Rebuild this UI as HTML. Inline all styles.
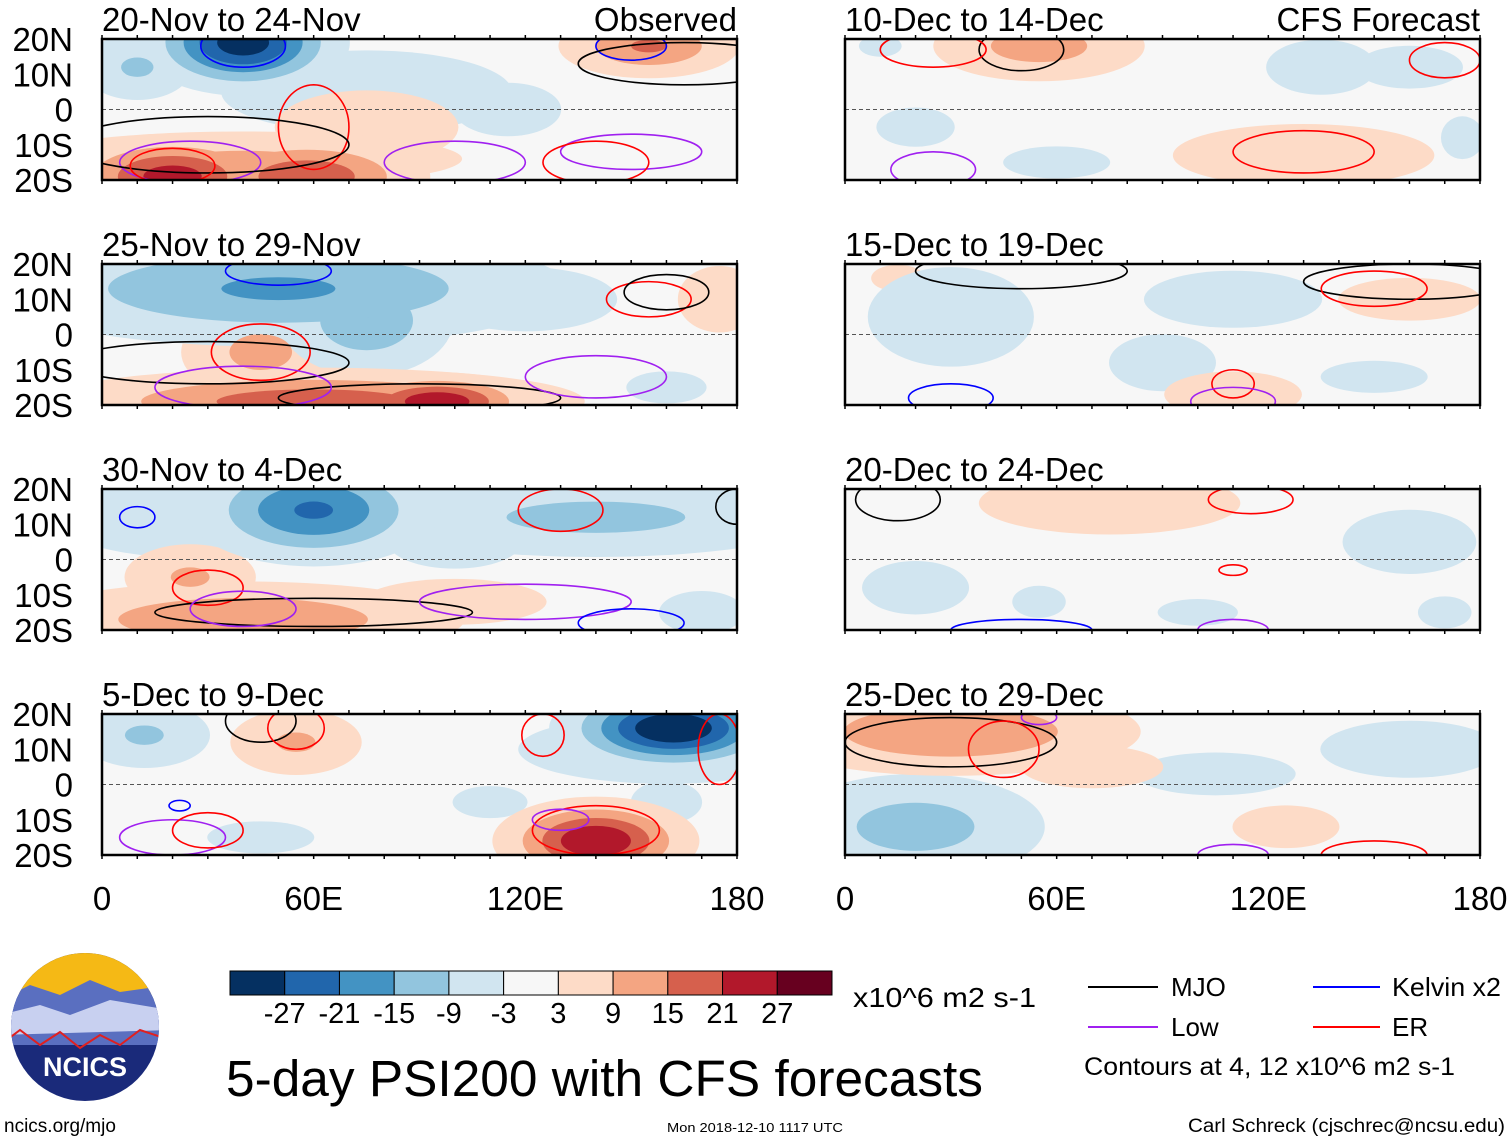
<!DOCTYPE html>
<html><head><meta charset="utf-8">
<style>
body{margin:0;background:#fff;width:1510px;height:1142px;overflow:hidden;font-family:"Liberation Sans",sans-serif}
svg text{font-family:"Liberation Sans",sans-serif}
</style></head>
<body>
<svg id="fig" width="1510" height="1142" viewBox="0 0 1510 1142" xmlns="http://www.w3.org/2000/svg">
<defs id="defs"></defs>
<g id="panels"></g>
<g id="cbar"></g>
<text x="853" y="1007" font-size="28" textLength="183" lengthAdjust="spacingAndGlyphs">x10^6 m2 s-1</text>
<g font-size="26">
<line x1="1088" y1="987" x2="1158" y2="987" stroke="#000" stroke-width="2"/><text x="1171" y="996">MJO</text>
<line x1="1313" y1="987" x2="1380" y2="987" stroke="#00f" stroke-width="2"/><text x="1392" y="996" textLength="109" lengthAdjust="spacingAndGlyphs">Kelvin x2</text>
<line x1="1088" y1="1027" x2="1158" y2="1027" stroke="#a020f0" stroke-width="2"/><text x="1171" y="1036">Low</text>
<line x1="1313" y1="1027" x2="1380" y2="1027" stroke="#f00" stroke-width="2"/><text x="1392" y="1036">ER</text>
<text x="1084" y="1075" font-size="25" textLength="371" lengthAdjust="spacingAndGlyphs">Contours at 4, 12 x10^6 m2 s-1</text>
</g>
<text x="226" y="1096" font-size="51" textLength="757" lengthAdjust="spacingAndGlyphs">5-day PSI200 with CFS forecasts</text>
<text x="4" y="1132" font-size="19">ncics.org/mjo</text>
<text x="667" y="1132" font-size="13" textLength="176" lengthAdjust="spacingAndGlyphs">Mon 2018-12-10 1117 UTC</text>
<text x="1188" y="1132" font-size="19" textLength="317" lengthAdjust="spacingAndGlyphs">Carl Schreck (cjschrec@ncsu.edu)</text>
<g>
<clipPath id="logoclip"><circle cx="85" cy="1027" r="74"/></clipPath>
<g clip-path="url(#logoclip)">
<rect x="0" y="950" width="170" height="160" fill="#1a2a7a"/>
<rect x="0" y="950" width="170" height="45" fill="#f5b915"/>
<path d="M0 1000 L30 985 L60 995 L90 980 L120 992 L170 985 L170 1045 L0 1045Z" fill="#5a6fc0"/>
<path d="M0 1015 L40 1005 L70 1015 L110 1000 L170 1010 L170 1030 L0 1035Z" fill="#c8d0f0"/>
<path d="M0 1045 L20 1030 L40 1045 L60 1032 L80 1048 L100 1035 L120 1045 L140 1030 L170 1040" fill="none" stroke="#e02020" stroke-width="2"/>
</g>
<text x="85" y="1076" font-size="27" font-weight="bold" fill="#fff" text-anchor="middle">NCICS</text>
</g>
</svg>
<script>
const NS="http://www.w3.org/2000/svg";
const levels=[3,9,15,21,27];
const posColors=["#fddbc7","#f4a582","#d6604d","#b2182b","#67001f"];
const negColors=["#d1e5f0","#92c5de","#4393c3","#2166ac","#053061"];
const cbarLabels=["-27","-21","-15","-9","-3","3","9","15","21","27"];
const cbarColors=["#053061","#2166ac","#4393c3","#92c5de","#d1e5f0","#f7f7f7","#fddbc7","#f4a582","#d6604d","#b2182b","#67001f"];
const panelTitles=["20-Nov to 24-Nov","25-Nov to 29-Nov","30-Nov to 4-Dec","5-Dec to 9-Dec","10-Dec to 14-Dec","15-Dec to 19-Dec","20-Dec to 24-Dec","25-Dec to 29-Dec"];
// anomaly centres: [lon, lat, sigmaLon, sigmaLat, amplitude]
const anom0=[[75,5,35,10,-6],[115,0,20,10,-4],[40,19,14,7,-31],[10,12,10,6,-10],[20,-19,16,6,24],[58,-19,18,6,20],[40,-14,40,5,10],[155,18,14,5,16],[75,-5,20,8,7]];
const anom1=[[50,13,45,9,-16],[75,4,14,9,-14],[120,10,20,7,-7],[22,15,12,6,-13],[45,-5,14,8,11],[60,-19,40,5,19],[95,-19,14,4,26],[175,10,10,8,6],[160,-15,15,6,-4]];
const anom2=[[60,14,18,8,-22],[30,12,30,8,-9],[140,12,40,7,-11],[100,5,25,10,-4],[40,-17,35,6,15],[25,-5,12,6,10],[100,-12,20,5,7],[170,-15,12,6,-5]];
const anom3=[[162,16,16,6,-34],[160,10,30,7,-8],[12,14,12,6,-10],[55,12,12,6,10],[140,-16,14,6,27],[110,-5,14,6,-4],[160,-5,10,6,-5],[45,-15,20,6,-4]];
const anom4=[[55,18,18,6,12],[130,-13,25,6,9],[135,12,12,6,-7],[160,12,20,8,-4],[60,-15,20,6,-4],[20,-5,20,10,-3.5],[175,-8,8,8,-4],[10,18,8,4,-4]];
const anom5=[[30,5,20,12,-6],[110,10,25,8,-5],[110,-17,15,5,7],[160,10,20,6,5],[90,-8,15,8,-5],[150,-12,20,6,-4],[15,16,10,5,4]];
const anom6=[[75,16,25,6,9],[160,5,25,12,-4],[20,-8,20,10,-4],[100,-15,15,5,-4],[55,-12,10,6,-4],[170,-15,10,6,-4]];
const anom7=[[30,15,30,7,15],[20,-12,22,9,-12],[105,3,30,8,-4],[160,10,25,8,-5],[125,-12,15,6,5],[70,5,20,6,5]];
const anoms=[anom0,anom1,anom2,anom3,anom4,anom5,anom6,anom7];
// contour lines: [lon, lat, rLon, rLat, type]  type: m=MJO k=Kelvin l=Low e=ER
const lines0=[[40,18,12,6,"k"],[150,18,10,4,"k"],[60,-5,10,12,"e"],[25,-15,20,6,"l"],[100,-15,20,6,"l"],[150,-12,20,5,"l"],[165,13,30,6,"m"],[30,-10,40,8,"m"],[20,-16,12,5,"e"],[140,-15,15,6,"e"]];
const lines1=[[45,-5,14,8,"e"],[155,10,12,5,"e"],[30,-8,40,6,"m"],[90,-18,40,4,"m"],[40,-15,25,6,"l"],[140,-12,20,6,"l"],[50,18,15,4,"k"],[160,12,12,5,"m"]];
const lines2=[[10,12,5,3,"k"],[30,-8,10,5,"e"],[130,14,12,6,"e"],[60,-15,45,4,"m"],[120,-12,30,5,"l"],[40,-14,15,5,"l"],[150,-18,15,4,"k"],[180,15,6,5,"m"]];
const lines3=[[45,18,10,6,"m"],[55,16,8,6,"e"],[125,14,6,6,"e"],[140,-13,18,7,"e"],[20,-15,15,5,"l"],[130,-10,8,3,"l"],[22,-6,3,1.5,"k"],[175,10,6,10,"e"],[30,-13,10,5,"e"]];
const lines4=[[50,17,12,6,"m"],[130,-12,20,6,"e"],[170,14,10,5,"e"],[25,17,15,5,"e"],[25,-17,12,5,"l"]];
const lines5=[[50,18,30,5,"m"],[160,15,30,5,"m"],[150,13,15,5,"e"],[110,-14,6,4,"e"],[110,-19,12,4,"l"],[30,-18,12,4,"k"]];
const lines6=[[15,17,12,6,"m"],[115,17,12,4,"e"],[110,-3,4,1.5,"e"],[50,-20,20,3,"k"],[110,-20,10,3,"l"]];
const lines7=[[30,12,30,7,"m"],[45,10,10,8,"e"],[150,-20,15,4,"e"],[110,-20,10,3,"l"],[55,19,5,2,"l"]];
const contourLines=[lines0,lines1,lines2,lines3,lines4,lines5,lines6,lines7];
const xTicks=["0","60E","120E","180"];
const xTickVals=[0,60,120,180];
const yTicks=["20N","10N","0","10S","20S"];
const yTickVals=[20,10,0,-10,-20];

const lineColor={m:"#000",k:"#0000ff",l:"#a020f0",e:"#ff0000"};
const fig=document.getElementById("panels");
const defs=document.getElementById("defs");
const PW=635,PH=141;
const lefts=[102,845],tops=[39,264,489,714];
function el(tag,attrs,parent){const e=document.createElementNS(NS,tag);for(const k in attrs)e.setAttribute(k,attrs[k]);parent.appendChild(e);return e;}

for(let p=0;p<8;p++){
  const col=p<4?0:1,row=p%4;
  const X0=lefts[col],Y0=tops[row];
  const xs=lon=>X0+lon/180*PW, ys=lat=>Y0+(20-lat)/40*PH;
  const g=el("g",{},fig);
  
  
  const cp=el("clipPath",{id:"cp"+p},defs);
  el("rect",{x:X0,y:Y0,width:PW,height:PH},cp);
  el("rect",{x:X0,y:Y0,width:PW,height:PH,fill:"#f7f7f7"},g);
  const inner=el("g",{"clip-path":"url(#cp"+p+")"},g);
  const list=anoms[p].slice().sort((a,b)=>Math.abs(a[4])-Math.abs(b[4]));
  for(let li=0;li<levels.length;li++){
    for(const a of list){
      const A=Math.abs(a[4]);if(A<=levels[li])continue;
      const s=Math.sqrt(2*Math.log(A/levels[li]));
      const e=el("ellipse",{cx:xs(a[0]),cy:ys(a[1]),rx:a[2]*s/180*PW,ry:a[3]*s/40*PH,fill:a[4]>0?posColors[li]:negColors[li]},inner);
      
      
    }
  }
  el("line",{x1:X0,y1:ys(0),x2:X0+PW,y2:ys(0),stroke:"#555","stroke-width":1,"stroke-dasharray":"4,3"},inner);
  for(const c of contourLines[p]){
    const e=el("ellipse",{cx:xs(c[0]),cy:ys(c[1]),rx:c[2]/180*PW,ry:c[3]/40*PH,fill:"none",stroke:lineColor[c[4]],"stroke-width":1.6},inner);
    
    
  }
  el("rect",{x:X0,y:Y0,width:PW,height:PH,fill:"none",stroke:"#000","stroke-width":2.5},g);
  for(let lon=0;lon<=180;lon+=10){
    el("line",{x1:xs(lon),y1:Y0,x2:xs(lon),y2:Y0-4,stroke:"#000","stroke-width":1.5},g);
    el("line",{x1:xs(lon),y1:Y0+PH,x2:xs(lon),y2:Y0+PH+4,stroke:"#000","stroke-width":1.5},g);
  }
  const t=el("text",{x:X0,y:Y0-8,"font-size":33},g);t.textContent=panelTitles[p];
  
  
  if(p===0||p===4){
    const r=el("text",{x:X0+PW,y:Y0-8,"font-size":33,"text-anchor":"end"},g);
    r.textContent=p===0?"Observed":"CFS Forecast";
    
    
  }
  if(col===0){
    yTicks.forEach((lab,i)=>{
      const tt=el("text",{x:73,y:ys(yTickVals[i])+12,"font-size":33,"text-anchor":"end"},g);tt.textContent=lab;
      
      
    });
  }
  if(row===3){
    xTicks.forEach((lab,i)=>{
      const tt=el("text",{x:xs(xTickVals[i]),y:910,"font-size":33,"text-anchor":"middle"},g);tt.textContent=lab;
      
      
    });
  }
}
const cb=document.getElementById("cbar");
const cbX=230,cbW=602/cbarColors.length;
cbarColors.forEach((c,i)=>{
  const r=el("rect",{x:cbX+i*cbW,y:971,width:cbW,height:24,fill:c,stroke:"#000","stroke-width":1},cb);
  
  
});
cbarLabels.forEach((l,i)=>{
  const t=el("text",{x:cbX+(i+1)*cbW,y:1023,"font-size":29,"text-anchor":"middle"},cb);t.textContent=l;
  
  
});
</script>
</body></html>
